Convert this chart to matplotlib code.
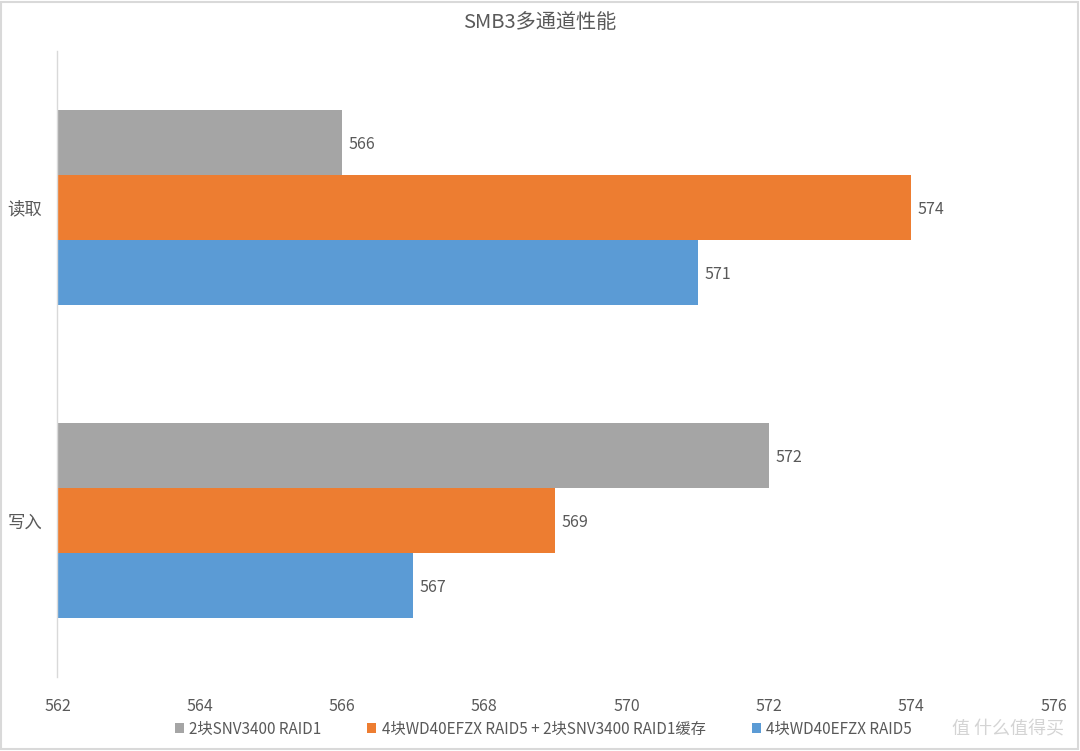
import numpy as np
import matplotlib
matplotlib.use("Agg")
import matplotlib.pyplot as plt
from matplotlib.patches import Rectangle

plt.rcParams['font.family'] = ['Noto Sans CJK SC', 'DejaVu Sans']

# data
categories = ["读取", "写入"]
series_names = ["2块SNV3400 RAID1",
                "4块WD40EFZX RAID5 + 2块SNV3400 RAID1缓存",
                "4块WD40EFZX RAID5"]
values = [
    [566, 572],
    [574, 569],
    [571, 567],
]
colors = ["#A5A5A5", "#ED7D31", "#5B9BD5"]
x_ticks = [562, 564, 566, 568, 570, 572, 574, 576]

text_c = "#595959"

fig = plt.figure(figsize=(10.8, 7.51), dpi=100)
ax = fig.add_axes([0.0532, 0.0985, 0.9222, 0.8336])

y = np.arange(len(categories))
h = 0.2077
base = x_ticks[0]
for i, (name, vals, c) in enumerate(zip(series_names, values, colors)):
    pos = y + (i - 1) * h
    widths = np.array(vals) - base
    ax.barh(pos, widths, height=h, left=base, color=c, label=name)
    for p, v in zip(pos, vals):
        ax.text(v + 0.09, p + 0.006, str(v), va="center", ha="left",
                fontsize=11.5, color=text_c)

ax.set_xlim(x_ticks[0], x_ticks[-1])
ax.set_ylim(len(categories) - 0.5, -0.5)
ax.set_xticks(x_ticks)
ax.set_xticklabels([str(t) for t in x_ticks])
ax.set_yticks(y)
ax.set_yticklabels(categories)
ax.tick_params(axis="x", length=0, pad=15, labelsize=11.5, labelcolor=text_c)
ax.tick_params(axis="y", length=0, pad=11, labelsize=12.5, labelcolor=text_c)
for s in ["top", "right", "bottom"]:
    ax.spines[s].set_visible(False)
ax.spines["left"].set_color("#D9D9D9")
ax.spines["left"].set_linewidth(1.0)

fig.text(0.5, 1 - 22 / 751, "SMB3多通道性能", ha="center", va="center",
         fontsize=14.5, color=text_c)

fig.legend(loc="center", bbox_to_anchor=(0.503, 1 - 729 / 751), ncol=3,
           frameon=False, fontsize=11, labelcolor=text_c,
           handlelength=0.6, handleheight=0.6, handletextpad=0.35,
           columnspacing=3.0)

# watermark
fig.text(0.985, 1 - 729 / 751, "值 什么值得买", ha="right", va="center",
         fontsize=13, color="#D4D4D4")

fig.patches.append(Rectangle((0.001, 0.002), 0.997, 0.996,
                             transform=fig.transFigure, fill=False,
                             edgecolor="#D9D9D9", linewidth=1.5))

fig.savefig("out.png", dpi=100, facecolor="white")
